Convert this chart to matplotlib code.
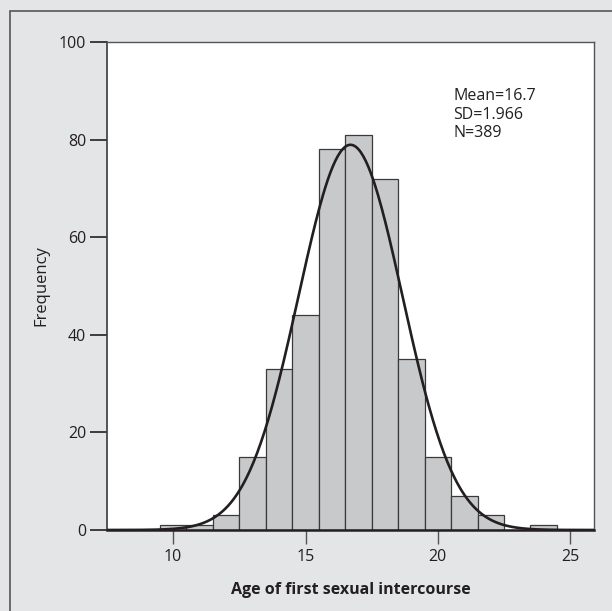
import numpy as np
import matplotlib
matplotlib.use("Agg")
import matplotlib.pyplot as plt
from matplotlib.patches import Rectangle

# Data
ages = [10, 11, 12, 13, 14, 15, 16, 17, 18, 19, 20, 21, 22, 23, 24]
counts = [1, 1, 3, 15, 33, 44, 78, 81, 72, 35, 15, 7, 3, 0, 1]
mean_val = 16.7
sd_val = 1.966
n_val = 389
x_ticks = [10, 15, 20, 25]
y_ticks = [0, 20, 40, 60, 80, 100]

plt.rcParams['font.family'] = ['Open Sans', 'DejaVu Sans']

bg = '#e4e5e6'
dark = '#231f20'

fig = plt.figure(figsize=(6.12, 6.11), dpi=100, facecolor=bg)
# outer frame (top and left edges visible)
fig.patches.append(Rectangle((10/612, -0.05), 1.2, (611-11)/611 + 0.05, transform=fig.transFigure,
                             facecolor='none', edgecolor='#555555', linewidth=1.2))

ax = fig.add_axes([107/612, (611-530)/611, (594-107)/612, (530-42)/611])
ax.set_facecolor('white')

ax.bar(ages, counts, width=1.0, color='#c8c9cb', edgecolor='#3a3a3a', linewidth=0.9, zorder=2)

xs = np.linspace(7.5, 25.9, 400)
ys = n_val * 1.0 * np.exp(-0.5 * ((xs - mean_val) / sd_val) ** 2) / (sd_val * np.sqrt(2 * np.pi))
ax.plot(xs, ys, color=dark, linewidth=1.9, zorder=3)

ax.set_xlim(7.5, 25.9)
ax.set_ylim(0, 100)
ax.set_xticks(x_ticks)
ax.set_yticks(y_ticks)
ax.tick_params(axis='y', direction='out', length=12, width=1.2, color=dark, labelsize=11.5, pad=3, labelcolor=dark)
ax.tick_params(axis='x', direction='out', length=10, width=1.0, color='#555555', labelsize=11.5, pad=4, labelcolor=dark)

for s in ['top', 'right']:
    ax.spines[s].set_color('#555555')
    ax.spines[s].set_linewidth(1.0)
ax.spines['left'].set_color('#3a3a3a')
ax.spines['left'].set_linewidth(1.2)
ax.spines['bottom'].set_color(dark)
ax.spines['bottom'].set_linewidth(1.8)

ax.set_xlabel('Age of first sexual intercourse', fontsize=11.5, fontweight='bold', color=dark, labelpad=12)
ax.set_ylabel('Frequency', fontsize=12, color=dark, labelpad=7)

ax.text(0.711, 0.905, f"Mean={mean_val}\nSD={sd_val}\nN={n_val}", transform=ax.transAxes,
        fontsize=11.5, color=dark, va='top', ha='left', linespacing=1.2)

fig.savefig('out.png', dpi=100, facecolor=bg)
